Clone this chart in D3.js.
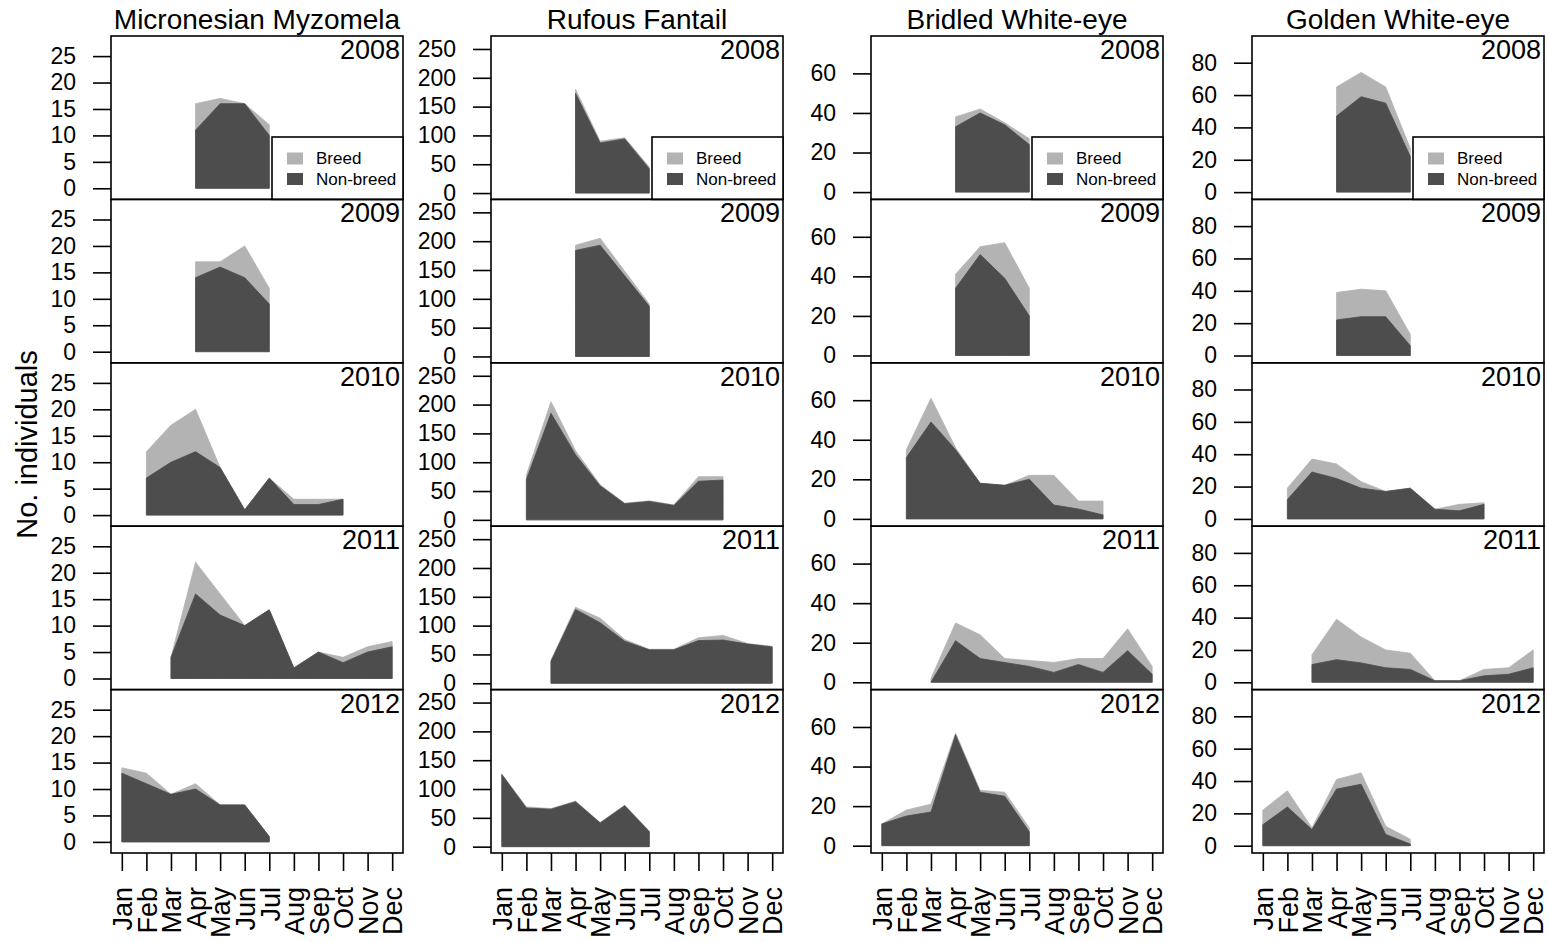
<!DOCTYPE html>
<html>
<head>
<meta charset="utf-8">
<script src="https://cdnjs.cloudflare.com/ajax/libs/d3/7.8.5/d3.min.js"></script>
<style>
body { margin: 0; background: #fff; }
svg { font-family: Arial, "Liberation Sans", sans-serif; }
</style>
</head>
<body>
<div id="chart"></div>
<script>
const N = null;
const months = ["Jan", "Feb", "Mar", "Apr", "May", "Jun", "Jul", "Aug", "Sep", "Oct", "Nov", "Dec"];
const years = [2008, 2009, 2010, 2011, 2012];
const species = ["Micronesian Myzomela", "Rufous Fantail", "Bridled White-eye", "Golden White-eye"];

// counts per year (rows) and month (columns)
const myzomelaNonBreed = [
    [N, N, N, 11, 16, 16, 10, N, N, N, N, N],
    [N, N, N, 14, 16, 14, 9, N, N, N, N, N],
    [N, 7, 10, 12, 9, 1, 7, 2, 2, 3, N, N],
    [N, N, 4, 16, 12, 10, 13, 2, 5, 3, 5, 6],
    [13, 11, 9, 10, 7, 7, 1, N, N, N, N, N]
];
const myzomelaBreed = [
    [N, N, N, 5, 1, 0, 2, N, N, N, N, N],
    [N, N, N, 3, 1, 6, 3, N, N, N, N, N],
    [N, 5, 7, 8, 0, 0, 0, 1, 1, 0, N, N],
    [N, N, 0, 6, 4, 0, 0, 0, 0, 1, 1, 1],
    [1, 2, 0, 1, 0, 0, 0, N, N, N, N, N]
];
const fantailNonBreed = [
    [N, N, N, 173, 87, 94, 42, N, N, N, N, N],
    [N, N, N, 184, 193, 140, 87, N, N, N, N, N],
    [N, 70, 185, 113, 59, 28, 32, 25, 67, 69, N, N],
    [N, N, 38, 128, 105, 73, 58, 58, 74, 75, 68, 63],
    [125, 67, 65, 78, 41, 71, 26, N, N, N, N, N]
];
const fantailBreed = [
    [N, N, N, 7, 3, 2, 3, N, N, N, N, N],
    [N, N, N, 9, 12, 8, 4, N, N, N, N, N],
    [N, 8, 20, 7, 2, 1, 1, 1, 8, 6, N, N],
    [N, N, 2, 4, 8, 3, 1, 1, 5, 8, 1, 1],
    [1, 2, 1, 1, 1, 1, 1, N, N, N, N, N]
];
const bridledNonBreed = [
    [N, N, N, 33, 40, 34, 24, N, N, N, N, N],
    [N, N, N, 34, 51, 39, 20, N, N, N, N, N],
    [N, 31, 49, 35, 18, 17, 20, 7, 5, 2, N, N],
    [N, N, 0, 21, 12, 10, 8, 5, 9, 5, 16, 4],
    [11, 15, 17, 56, 27, 25, 7, N, N, N, N, N]
];
const bridledBreed = [
    [N, N, N, 5, 2, 1, 3, N, N, N, N, N],
    [N, N, N, 7, 4, 18, 14, N, N, N, N, N],
    [N, 4, 12, 1, 0, 0, 2, 15, 4, 7, N, N],
    [N, N, 2, 9, 12, 2, 3, 5, 3, 7, 11, 4],
    [0, 3, 4, 1, 1, 2, 2, N, N, N, N, N]
];
const goldenNonBreed = [
    [N, N, N, 47, 59, 55, 22, N, N, N, N, N],
    [N, N, N, 22, 24, 24, 6, N, N, N, N, N],
    [N, 12, 29, 25, 19, 17, 19, 6, 5, 9, N, N],
    [N, N, 11, 14, 12, 9, 8, 1, 1, 4, 5, 9],
    [13, 24, 10, 35, 38, 7, 1, N, N, N, N, N]
];
const goldenBreed = [
    [N, N, N, 18, 15, 10, 5, N, N, N, N, N],
    [N, N, N, 17, 17, 16, 7, N, N, N, N, N],
    [N, 7, 8, 9, 4, 0, 0, 0, 4, 1, N, N],
    [N, N, 6, 25, 16, 11, 10, 0, 0, 4, 4, 11],
    [9, 10, 1, 6, 7, 5, 3, N, N, N, N, N]
];
const yTicks = [
    [0, 5, 10, 15, 20, 25],
    [0, 50, 100, 150, 200, 250],
    [0, 20, 40, 60],
    [0, 20, 40, 60, 80]
];
const yLimits = [[-2.1, 28.8], [-11, 272.5], [-3.7, 78.9], [-4.5, 96.5]];
const legendLabels = ["Breed", "Non-breed"];

const nonBreed = [myzomelaNonBreed, fantailNonBreed, bridledNonBreed, goldenNonBreed];
const breed = [myzomelaBreed, fantailBreed, bridledBreed, goldenBreed];

const width = 1548;
const height = 942;
const boxLefts = [111, 491, 871, 1252];
const boxW = 292;
const top0 = 36;
const rowH = 163.4;
const colBreed = "#b3b3b3";
const colNon = "#4d4d4d";

const svg = d3.select("#chart")
    .append("svg")
    .attr("width", width)
    .attr("height", height);

const x = d3.scaleLinear().domain([0.56, 12.44]).range([0, boxW]);

species.forEach((sp, c) => {
    const left = boxLefts[c];
    const col = svg.append("g").attr("transform", `translate(${left},0)`);

    // species title
    col.append("text")
        .attr("x", boxW / 2)
        .attr("y", 29)
        .attr("text-anchor", "middle")
        .attr("font-size", 28)
        .text(sp);

    const y = d3.scaleLinear().domain(yLimits[c]).range([rowH, 0]);

    years.forEach((yr, r) => {
        const g = col.append("g").attr("transform", `translate(0,${top0 + r * rowH})`);

        const pts = months.map((m, i) => ({
            m: i + 1,
            nb: nonBreed[c][r][i],
            total: nonBreed[c][r][i] == null ? null : nonBreed[c][r][i] + breed[c][r][i]
        })).filter(d => d.nb != null);

        const areaTotal = d3.area().x(d => x(d.m)).y0(y(0)).y1(d => y(d.total));
        const areaNon = d3.area().x(d => x(d.m)).y0(y(0)).y1(d => y(d.nb));

        g.append("path").attr("d", areaTotal(pts)).attr("fill", colBreed)
            .attr("stroke", colBreed).attr("stroke-width", 0.8);
        g.append("path").attr("d", areaNon(pts)).attr("fill", colNon)
            .attr("stroke", colNon).attr("stroke-width", 0.8);

        // y axis
        const yAxis = d3.axisLeft(y).tickValues(yTicks[c]).tickSize(18).tickPadding(17);
        const ax = g.append("g").call(yAxis);
        ax.select(".domain").remove();
        ax.selectAll("line").attr("stroke", "#000").attr("stroke-width", 1.6);
        ax.selectAll("text").attr("font-size", 23).attr("fill", "#000")
            .attr("font-family", "Arial, 'Liberation Sans', sans-serif");

        // box
        g.append("rect")
            .attr("x", 0).attr("y", 0)
            .attr("width", boxW).attr("height", rowH)
            .attr("fill", "none").attr("stroke", "#000").attr("stroke-width", 1.6);

        // year label
        g.append("text")
            .attr("x", boxW - 3)
            .attr("y", 23)
            .attr("text-anchor", "end")
            .attr("font-size", 27)
            .text(yr);

        if (r === 0) {
            const lg = g.append("g").attr("transform", `translate(${boxW - 131},101)`);
            lg.append("rect").attr("width", 131).attr("height", rowH - 101)
                .attr("fill", "#fff").attr("stroke", "#000").attr("stroke-width", 1.6);
            legendLabels.forEach((lab, i) => {
                lg.append("rect")
                    .attr("x", 15).attr("y", 15.5 + i * 20.5)
                    .attr("width", 16).attr("height", 12)
                    .attr("fill", i === 0 ? colBreed : colNon);
                lg.append("text")
                    .attr("x", 44).attr("y", 27 + i * 21)
                    .attr("font-size", 17)
                    .text(lab);
            });
        }

        if (r === years.length - 1) {
            const xAxis = d3.axisBottom(x).tickValues(d3.range(1, 13))
                .tickSize(18).tickFormat(d => months[d - 1]);
            const xa = g.append("g").attr("transform", `translate(0,${rowH})`).call(xAxis);
            xa.select(".domain").remove();
            xa.selectAll("line").attr("stroke", "#000").attr("stroke-width", 1.6);
            xa.selectAll("text")
                .attr("font-size", 27).attr("fill", "#000")
                .attr("font-family", "Arial, 'Liberation Sans', sans-serif")
                .attr("transform", "rotate(-90)")
                .attr("x", -34).attr("y", 0).attr("dy", "0.36em")
                .attr("text-anchor", "end");
        }
    });
});

// y axis title
svg.append("text")
    .attr("transform", `translate(37,${top0 + rowH * 2.5}) rotate(-90)`)
    .attr("text-anchor", "middle")
    .attr("font-size", 29)
    .text("No. individuals");
</script>
</body>
</html>
